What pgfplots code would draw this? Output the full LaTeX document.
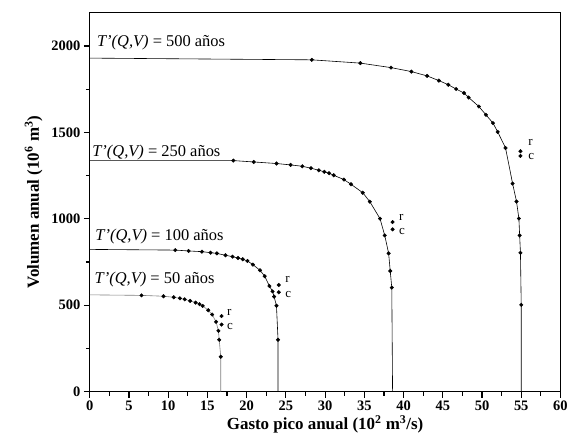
\documentclass[border=0pt]{standalone}
\usepackage{fontspec}
\setmainfont{Liberation Serif}
\usepackage{pgfplots}
\pgfplotsset{compat=1.18}
\tikzset{
  lab/.style={font=\fontsize{16.5}{16.5}\selectfont, inner sep=0pt, anchor=base west},
  rc/.style={font=\fontsize{13}{13}\selectfont, inner sep=0pt, anchor=base west}}
\begin{document}
\begin{tikzpicture}
\path (-90pt,-56.3pt) rectangle (481pt,392.7pt);
\begin{axis}[name=ax, at={(0,0)}, anchor=south west,
  scale only axis, width=472pt, height=380pt,
  xmin=0, xmax=60, ymin=0, ymax=2193,
  xtick distance=5, ytick distance=500,
  minor x tick num=1, minor y tick num=1,
  tick align=outside, xtick pos=bottom, ytick pos=left,
  major tick length=6pt, minor tick length=4pt,
  every tick/.style={line width=1.2pt, black},
  axis line style={line width=1.4pt},
  /pgf/number format/assume math mode=true,
  /pgf/number format/1000 sep={},
  tick label style={font=\fontsize{14.5}{14.5}\selectfont\bfseries},
  label style={font=\fontsize{17}{17}\selectfont\bfseries},
  xlabel={Gasto pico anual (10\textsuperscript{2} m\textsuperscript{3}/s)},
  ylabel={Volumen anual (10\textsuperscript{6} m\textsuperscript{3})},
  xlabel style={yshift=2pt}, ylabel style={yshift=2pt},
  clip=false,
  mk/.style={only marks, mark=*, mark size=1.8pt, black},
  ln/.style={no marks, black, line width=0.6pt}]
% T = 500
\addplot[ln] coordinates {(0,1930)(28.3,1920)(34.5,1901)(38.4,1875)(41.0,1852)(43.0,1827)(44.5,1800)(45.7,1776)(46.7,1751)(47.7,1728)(48.3,1702)(49.6,1650)(50.5,1602)(51.4,1554)(52.0,1503)(53.0,1410)(53.9,1204)(54.4,1100)(54.7,1002)(54.8,904)(54.9,803)(55.0,502)(55.0,0)};
\addplot[mk] coordinates {(28.3,1920)(34.5,1901)(38.4,1875)(41.0,1852)(43.0,1827)(44.5,1800)(45.7,1776)(46.7,1751)(47.7,1728)(48.3,1702)(49.6,1650)(50.5,1602)(51.4,1554)(52.0,1503)(53.0,1410)(53.9,1204)(54.4,1100)(54.7,1002)(54.8,904)(54.9,803)(55.0,502)};
\addplot[mk] coordinates {(54.9,1391)(54.9,1364)};
% T = 250
\addplot[ln] coordinates {(0,1337)(18.3,1337)(20.9,1329)(23.8,1320)(25.6,1312)(27.1,1304)(28.2,1293)(29.2,1281)(29.9,1272)(30.5,1264)(31.1,1252)(32.4,1227)(33.3,1200)(34.8,1151)(35.7,1099)(37.0,1001)(37.6,904)(38.1,800)(38.3,698)(38.5,602)(38.6,0)};
\addplot[mk] coordinates {(18.3,1337)(20.9,1329)(23.8,1320)(25.6,1312)(27.1,1304)(28.2,1293)(29.2,1281)(29.9,1272)(30.5,1264)(31.1,1252)(32.4,1227)(33.3,1200)(34.8,1151)(35.7,1099)(37.0,1001)(37.6,904)(38.1,800)(38.3,698)(38.5,602)};
\addplot[mk] coordinates {(38.6,981)(38.6,939)};
% T = 100
\addplot[ln] coordinates {(0,823)(10.9,819)(12.6,814)(14.3,810)(15.4,804)(16.2,800)(17.3,789)(18.2,781)(18.9,773)(19.5,766)(20.1,756)(20.8,735)(21.7,702)(22.3,668)(22.9,611)(23.3,580)(23.5,550)(23.8,497)(24.0,300)(24.0,0)};
\addplot[mk] coordinates {(10.9,819)(12.6,814)(14.3,810)(15.4,804)(16.2,800)(17.3,789)(18.2,781)(18.9,773)(19.5,766)(20.1,756)(20.8,735)(21.7,702)(22.3,668)(22.9,611)(23.3,580)(23.5,550)(23.8,497)(24.0,300)};
\addplot[mk] coordinates {(24.1,617)(24.1,575)};
% T = 50
\addplot[no marks, gray, line width=0.6pt] coordinates {(0,560)(6.6,557)(9.4,552)(10.7,546)(11.5,540)(12.1,534)(12.8,525)(13.5,515)(14.0,506)(14.4,496)(15.1,471)(15.6,446)(16.1,404)(16.4,352)(16.5,300)(16.7,202)(16.7,0)};
\addplot[mk] coordinates {(6.6,557)(9.4,552)(10.7,546)(11.5,540)(12.1,534)(12.8,525)(13.5,515)(14.0,506)(14.4,496)(15.1,471)(15.6,446)(16.1,404)(16.4,352)(16.5,300)(16.7,202)};
\addplot[mk] coordinates {(16.8,437)(16.8,388)};
% labels
\node[lab] at (axis cs:0.9,1998) {\textit{T'(Q,V)} = 500 años};
\node[lab] at (axis cs:0.3,1362) {\textit{T'(Q,V)} = 250 años};
\node[lab] at (axis cs:0.7,872) {\textit{T'(Q,V)} = 100 años};
\node[lab] at (axis cs:0.6,628) {\textit{T'(Q,V)} = 50 años};
\node[rc] at (axis cs:55.9,1424) {r};
\node[rc] at (axis cs:55.9,1344) {c};
\node[rc] at (axis cs:39.4,990) {r};
\node[rc] at (axis cs:39.4,910) {c};
\node[rc] at (axis cs:24.9,633) {r};
\node[rc] at (axis cs:24.9,545) {c};
\node[rc] at (axis cs:17.5,442) {r};
\node[rc] at (axis cs:17.5,362) {c};
\end{axis}
\end{tikzpicture}
\end{document}
